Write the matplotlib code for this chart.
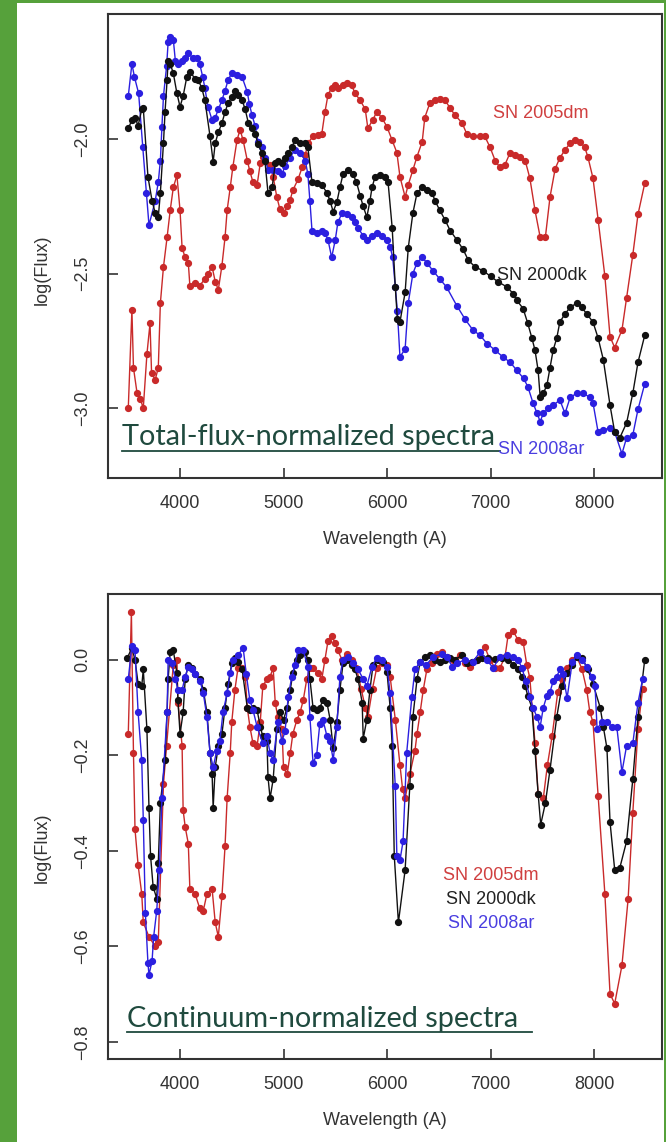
import matplotlib
matplotlib.use('Agg')
import matplotlib.pyplot as plt
from matplotlib.patches import Rectangle
from matplotlib.lines import Line2D

plt.rcParams['font.family'] = ['Liberation Sans', 'DejaVu Sans']

# ---- total-flux-normalized spectra (log flux) ----
wl_dm_tot = [3500, 3535, 3550, 3585, 3615, 3645, 3680, 3710, 3725, 3760, 3790, 3810, 3840, 3875, 3905,
             3935, 3970, 4000, 4020, 4050, 4080, 4095, 4145, 4190, 4240, 4270, 4310, 4340, 4370, 4405,
             4435, 4455, 4485, 4510, 4550, 4580, 4610, 4650, 4675, 4705, 4745, 4775, 4800, 4870, 4900,
             4935, 4965, 5000, 5035, 5065, 5090, 5140, 5180, 5210, 5235, 5285, 5335, 5370, 5400, 5430,
             5465, 5500, 5525, 5575, 5610, 5660, 5690, 5740, 5790, 5815, 5860, 5900, 5950, 6000, 6050,
             6095, 6125, 6175, 6205, 6250, 6290, 6340, 6365, 6415, 6465, 6510, 6560, 6610, 6655, 6725,
             6770, 6830, 6900, 6945, 6995, 7045, 7090, 7140, 7190, 7235, 7285, 7335, 7380, 7430, 7480,
             7530, 7575, 7625, 7670, 7720, 7770, 7815, 7865, 7910, 7940, 7990, 8040, 8105, 8155, 8200,
             8270, 8315, 8375, 8425, 8490]
fl_dm_tot = [-3.00, -2.635, -2.85, -2.945, -2.965, -3.00, -2.80, -2.685, -2.87, -2.895, -2.85, -2.61, -2.475, -2.365, -2.265,
             -2.18, -2.135, -2.265, -2.405, -2.44, -2.46, -2.545, -2.535, -2.545, -2.52, -2.50, -2.475, -2.53, -2.56, -2.47,
             -2.365, -2.265, -2.18, -2.105, -2.005, -1.965, -2.005, -2.08, -2.12, -2.16, -2.17, -2.09, -2.065, -2.095, -2.14,
             -2.215, -2.26, -2.275, -2.25, -2.225, -2.19, -2.15, -2.105, -2.06, -2.015, -1.99, -1.985, -1.98, -1.90, -1.835,
             -1.81, -1.80, -1.81, -1.80, -1.79, -1.80, -1.83, -1.855, -1.89, -1.96, -1.93, -1.90, -1.92, -1.955, -2.005,
             -2.05, -2.14, -2.215, -2.17, -2.115, -2.065, -2.01, -1.92, -1.865, -1.855, -1.85, -1.855, -1.885, -1.91, -1.94,
             -1.98, -1.99, -1.99, -1.99, -2.03, -2.08, -2.105, -2.095, -2.05, -2.06, -2.065, -2.08, -2.145, -2.265, -2.365,
             -2.365, -2.215, -2.11, -2.07, -2.04, -2.015, -2.005, -2.01, -2.03, -2.065, -2.145, -2.30, -2.51, -2.735, -2.775,
             -2.71, -2.59, -2.43, -2.28, -2.165]

wl_dk_tot = [3500, 3535, 3565, 3595, 3630, 3645, 3690, 3730, 3760, 3790, 3810, 3840, 3855, 3875, 3885,
             3905, 3935, 3970, 4000, 4030, 4065, 4095, 4145, 4175, 4210, 4240, 4290, 4320, 4340, 4370,
             4405, 4435, 4465, 4500, 4530, 4560, 4600, 4630, 4660, 4695, 4725, 4755, 4790, 4820, 4850,
             4890, 4920, 4945, 4985, 5015, 5045, 5080, 5110, 5160, 5210, 5235, 5275, 5320, 5370, 5420,
             5450, 5480, 5515, 5545, 5575, 5625, 5670, 5705, 5740, 5770, 5805, 5835, 5855, 5885, 5930,
             5980, 6010, 6050, 6080, 6100, 6125, 6175, 6205, 6250, 6290, 6340, 6385, 6435, 6465, 6510,
             6560, 6610, 6675, 6735, 6785, 6850, 6930, 7000, 7070, 7160, 7220, 7255, 7315, 7360, 7400,
             7430, 7460, 7480, 7510, 7545, 7575, 7605, 7640, 7670, 7720, 7770, 7835, 7880, 7930, 7990,
             8040, 8090, 8155, 8200, 8250, 8315, 8375, 8425, 8490]
fl_dk_tot = [-1.96, -1.93, -1.92, -1.95, -1.89, -1.885, -2.14, -2.23, -2.275, -2.29, -2.20, -2.015, -1.90, -1.78, -1.71,
             -1.72, -1.755, -1.83, -1.88, -1.84, -1.77, -1.75, -1.775, -1.78, -1.81, -1.855, -1.99, -2.085, -2.015, -1.975,
             -1.94, -1.90, -1.865, -1.845, -1.82, -1.835, -1.855, -1.89, -1.94, -1.96, -1.98, -2.02, -2.05, -2.08, -2.20,
             -2.18, -2.09, -2.08, -2.09, -2.07, -2.05, -2.03, -2.005, -2.015, -2.015, -2.03, -2.16, -2.165, -2.17, -2.20,
             -2.23, -2.27, -2.235, -2.18, -2.13, -2.115, -2.13, -2.16, -2.21, -2.25, -2.29, -2.23, -2.18, -2.14, -2.135,
             -2.14, -2.16, -2.33, -2.55, -2.67, -2.68, -2.57, -2.405, -2.275, -2.20, -2.18, -2.19, -2.20, -2.23, -2.265,
             -2.30, -2.34, -2.375, -2.41, -2.45, -2.475, -2.49, -2.51, -2.53, -2.55, -2.575, -2.60, -2.63, -2.685, -2.74,
             -2.785, -2.86, -2.96, -2.945, -2.915, -2.85, -2.785, -2.74, -2.68, -2.65, -2.625, -2.61, -2.625, -2.65, -2.68,
             -2.74, -2.82, -2.99, -3.09, -3.11, -3.055, -2.945, -2.83, -2.73]

wl_ar_tot = [3500, 3535, 3560, 3600, 3640, 3675, 3700, 3760, 3790, 3810, 3825, 3840, 3870, 3885, 3900,
             3935, 3955, 3980, 4020, 4050, 4080, 4125, 4165, 4190, 4220, 4240, 4270, 4310, 4340, 4370,
             4405, 4435, 4465, 4500, 4550, 4600, 4650, 4670, 4695, 4725, 4755, 4790, 4820, 4850, 4900,
             4950, 4985, 5015, 5060, 5110, 5160, 5210, 5235, 5255, 5275, 5320, 5370, 5400, 5430, 5465,
             5500, 5525, 5565, 5610, 5660, 5690, 5720, 5770, 5805, 5855, 5900, 5950, 6000, 6030, 6055,
             6080, 6100, 6125, 6175, 6205, 6250, 6290, 6340, 6385, 6445, 6510, 6575, 6675, 6755, 6830,
             6900, 6965, 7045, 7120, 7190, 7255, 7320, 7360, 7410, 7450, 7480, 7510, 7560, 7605, 7670,
             7720, 7770, 7835, 7895, 7960, 7990, 8040, 8090, 8155, 8200, 8270, 8315, 8375, 8425, 8490]
fl_ar_tot = [-1.84, -1.72, -1.77, -1.83, -2.03, -2.20, -2.32, -2.23, -2.16, -2.08, -1.955, -1.84, -1.73, -1.64, -1.62,
             -1.63, -1.71, -1.72, -1.71, -1.70, -1.68, -1.70, -1.70, -1.72, -1.77, -1.81, -1.88, -1.93, -1.92, -1.89,
             -1.855, -1.82, -1.78, -1.755, -1.76, -1.77, -1.825, -1.87, -1.91, -1.95, -2.01, -2.03, -2.07, -2.115, -2.115,
             -2.12, -2.13, -2.10, -2.07, -2.04, -2.05, -2.08, -2.13, -2.23, -2.34, -2.35, -2.34, -2.35, -2.375, -2.44,
             -2.375, -2.31, -2.275, -2.28, -2.29, -2.31, -2.33, -2.36, -2.375, -2.36, -2.35, -2.36, -2.375, -2.40, -2.44,
             -2.55, -2.64, -2.81, -2.78, -2.61, -2.50, -2.46, -2.44, -2.46, -2.49, -2.52, -2.55, -2.62, -2.67, -2.71,
             -2.73, -2.76, -2.785, -2.81, -2.83, -2.86, -2.89, -2.92, -2.98, -3.02, -3.05, -3.02, -3.00, -2.99, -2.97,
             -3.02, -2.96, -2.945, -2.945, -2.96, -2.98, -3.09, -3.08, -3.075, -3.09, -3.17, -3.11, -3.10, -3.005, -2.91]

# ---- continuum-normalized spectra (log flux) ----
wl_dm_con = [3500, 3530, 3550, 3565, 3595, 3630, 3645, 3700, 3760, 3790, 3840, 3870, 3935, 3970,
             3980, 4020, 4030, 4050, 4080, 4095, 4145, 4190, 4225, 4260, 4310, 4340, 4370, 4405, 4435,
             4455, 4485, 4500, 4530, 4560, 4600, 4630, 4650, 4675, 4705, 4745, 4775, 4800, 4840, 4870,
             4900, 4920, 4945, 4985, 5000, 5035, 5065, 5090, 5130, 5160, 5190, 5225, 5255, 5285, 5335,
             5370, 5400, 5430, 5465, 5500, 5525, 5565, 5610, 5660, 5705, 5750, 5790, 5815, 5860, 5900,
             5950, 6000, 6030, 6080, 6125, 6150, 6175, 6220, 6270, 6290, 6320, 6350, 6385, 6435, 6485,
             6530, 6580, 6640, 6705, 6755, 6800, 6870, 6945, 6995, 7045, 7090, 7140, 7170, 7220, 7265,
             7315, 7350, 7380, 7430, 7460, 7510, 7550, 7595, 7650, 7690, 7740, 7790, 7835, 7885, 7930,
             7960, 7990, 8040, 8105, 8155, 8200, 8270, 8330, 8375, 8425, 8470]
fl_dm_con = [-0.155, 0.10, -0.195, -0.355, -0.43, -0.49, -0.55, -0.58, -0.60, -0.59, -0.26, -0.18, -0.01, 0.0,
             -0.09, -0.18, -0.315, -0.35, -0.385, -0.48, -0.49, -0.52, -0.525, -0.49, -0.48, -0.55, -0.58, -0.495, -0.39,
             -0.29, -0.195, -0.13, -0.063, -0.017, -0.017, -0.035, -0.10, -0.14, -0.175, -0.18, -0.13, -0.055, -0.04, -0.035,
             -0.017, -0.09, -0.12, -0.145, -0.225, -0.24, -0.195, -0.155, -0.125, -0.11, -0.085, -0.04, -0.017, -0.017, -0.028,
             -0.04, 0.0, 0.04, 0.05, 0.035, 0.02, 0.0, 0.013, 0.0, -0.017, -0.06, -0.10, -0.12, -0.06, -0.017,
             -0.007, -0.01, -0.035, -0.125, -0.22, -0.27, -0.29, -0.24, -0.19, -0.155, -0.11, -0.063, -0.02, -0.007, 0.013,
             0.017, 0.006, 0.0, 0.01, -0.007, -0.014, 0.0, 0.027, 0.0, -0.017, -0.017, 0.006, 0.052, 0.06, 0.042,
             0.038, -0.01, -0.038, -0.175, -0.28, -0.29, -0.22, -0.16, -0.067, -0.04, -0.017, 0.0, 0.006, -0.02, -0.063,
             -0.11, -0.13, -0.285, -0.49, -0.70, -0.72, -0.64, -0.50, -0.32, -0.145, -0.06]

wl_dk_con = [3490, 3535, 3565, 3595, 3630, 3645, 3680, 3700, 3715, 3740, 3775, 3790, 3810, 3855, 3875,
             3885, 3905, 3935, 3970, 3980, 4000, 4030, 4050, 4080, 4115, 4145, 4195, 4225, 4260, 4290,
             4310, 4320, 4340, 4370, 4405, 4435, 4465, 4500, 4530, 4560, 4600, 4650, 4675, 4705, 4745,
             4775, 4800, 4840, 4850, 4870, 4900, 4935, 4965, 5000, 5035, 5065, 5090, 5130, 5160, 5210,
             5235, 5255, 5285, 5320, 5350, 5380, 5420, 5450, 5480, 5515, 5545, 5575, 5610, 5660, 5690,
             5720, 5760, 5770, 5805, 5835, 5865, 5910, 5960, 6000, 6030, 6050, 6070, 6110, 6175, 6220,
             6250, 6290, 6320, 6365, 6415, 6465, 6510, 6560, 6610, 6655, 6725, 6770, 6820, 6870, 6920,
             6975, 7045, 7110, 7170, 7220, 7265, 7305, 7335, 7360, 7400, 7430, 7460, 7485, 7530, 7575,
             7640, 7690, 7740, 7790, 7835, 7885, 7940, 7990, 8060, 8090, 8125, 8155, 8200, 8250, 8315,
             8375, 8425, 8490]
fl_dk_con = [0.004, 0.025, 0.0, -0.05, -0.055, -0.02, -0.145, -0.31, -0.41, -0.475, -0.50, -0.425, -0.30, -0.21, -0.11,
             -0.04, 0.017, 0.02, -0.028, -0.085, -0.155, -0.11, -0.04, -0.01, -0.017, -0.03, -0.04, -0.063, -0.11, -0.195,
             -0.24, -0.31, -0.225, -0.18, -0.155, -0.10, -0.05, -0.007, 0.004, -0.004, -0.02, -0.10, -0.105, -0.10, -0.105,
             -0.14, -0.16, -0.17, -0.245, -0.29, -0.25, -0.145, -0.11, -0.125, -0.10, -0.063, -0.028, 0.0, 0.01, 0.017,
             0.0, -0.04, -0.10, -0.105, -0.10, -0.085, -0.09, -0.125, -0.185, -0.13, -0.063, -0.007, 0.0, -0.01, -0.02,
             -0.04, -0.09, -0.165, -0.125, -0.063, -0.01, 0.0, -0.004, -0.025, -0.10, -0.18, -0.41, -0.55, -0.44, -0.265,
             -0.12, -0.04, -0.004, 0.006, 0.01, 0.0, -0.004, 0.0, 0.004, 0.0, 0.01, -0.007, -0.004, 0.0, 0.004,
             0.004, 0.002, 0.004, 0.0, -0.01, -0.02, -0.035, -0.055, -0.075, -0.10, -0.19, -0.28, -0.345, -0.30, -0.23,
             -0.12, -0.055, -0.028, -0.01, 0.006, 0.004, -0.02, -0.05, -0.10, -0.14, -0.185, -0.34, -0.44, -0.435, -0.38,
             -0.25, -0.12, 0.0]

wl_ar_con = [3500, 3535, 3565, 3595, 3630, 3645, 3665, 3690, 3700, 3730, 3745, 3775, 3800, 3825, 3875,
             3885, 3920, 3955, 3980, 4020, 4050, 4080, 4115, 4145, 4195, 4225, 4260, 4290, 4320, 4355,
             4385, 4415, 4455, 4485, 4510, 4560, 4610, 4640, 4675, 4705, 4745, 4800, 4840, 4870, 4900,
             4945, 4985, 5015, 5045, 5080, 5110, 5140, 5190, 5235, 5255, 5285, 5320, 5350, 5380, 5420,
             5450, 5480, 5515, 5545, 5575, 5625, 5670, 5720, 5770, 5805, 5855, 5900, 5950, 6000, 6030,
             6080, 6095, 6125, 6155, 6190, 6240, 6270, 6320, 6380, 6440, 6530, 6580, 6630, 6675, 6750,
             6830, 6900, 6965, 7025, 7090, 7160, 7220, 7265, 7305, 7340, 7380, 7410, 7450, 7480, 7510,
             7545, 7575, 7605, 7640, 7670, 7700, 7740, 7790, 7835, 7885, 7930, 7980, 8010, 8030, 8075,
             8125, 8175, 8220, 8270, 8315, 8375, 8425, 8470]
fl_ar_con = [-0.04, 0.03, 0.02, -0.11, -0.21, -0.335, -0.53, -0.635, -0.66, -0.63, -0.58, -0.525, -0.44, -0.29, -0.11,
             0.0, -0.007, -0.04, -0.063, -0.063, -0.035, -0.014, -0.02, -0.03, -0.045, -0.07, -0.12, -0.195, -0.225, -0.19,
             -0.17, -0.11, -0.07, -0.028, 0.0, 0.01, 0.025, -0.03, -0.085, -0.105, -0.14, -0.175, -0.16, -0.195, -0.21,
             -0.13, -0.17, -0.15, -0.077, -0.035, -0.01, 0.02, 0.02, -0.014, -0.12, -0.215, -0.20, -0.135, -0.125, -0.16,
             -0.17, -0.21, -0.14, -0.035, 0.0, 0.006, -0.007, -0.02, -0.04, -0.055, -0.014, 0.004, 0.0, -0.014, -0.07,
             -0.265, -0.41, -0.42, -0.38, -0.195, -0.077, -0.02, -0.004, -0.01, 0.005, 0.013, 0.006, -0.014, -0.007, 0.0,
             -0.004, 0.017, 0.0, -0.017, 0.006, 0.01, 0.006, 0.0, -0.017, -0.045, -0.077, -0.10, -0.12, -0.14, -0.10,
             -0.075, -0.067, -0.045, -0.035, -0.02, -0.03, -0.08, -0.004, 0.01, 0.0, -0.014, -0.035, -0.055, -0.145, -0.13,
             -0.13, -0.14, -0.14, -0.235, -0.18, -0.175, -0.09, -0.04]

W, H = 666, 1142
red = '#c92a2a'
black = '#111111'
blue = '#2b1fe0'
note_col = '#1f4a3e'


def fx(px):
    return px / W


def fy(py):
    return 1 - py / H


fig = plt.figure(figsize=(W / 100, H / 100), dpi=100)
fig.patch.set_facecolor('#56a13b')
fig.add_artist(Rectangle((fx(17), 0), fx(664) - fx(17), fy(3), transform=fig.transFigure,
                         facecolor='white', edgecolor='none', zorder=0))

ax1 = fig.add_axes([fx(108), fy(478), fx(662) - fx(108), fy(14) - fy(478)])
ax2 = fig.add_axes([fx(108), fy(1059), fx(662) - fx(108), fy(594) - fy(1059)])

panels = [
    (ax1, [(wl_dm_tot, fl_dm_tot, red), (wl_ar_tot, fl_ar_tot, blue), (wl_dk_tot, fl_dk_tot, black)],
     (-3.26, -1.535), [-3.0, -2.5, -2.0]),
    (ax2, [(wl_dm_con, fl_dm_con, red), (wl_dk_con, fl_dk_con, black), (wl_ar_con, fl_ar_con, blue)],
     (-0.836, 0.138), [-0.8, -0.6, -0.4, -0.2, 0.0]),
]

for ax, series, ylim, yticks in panels:
    for wl, fl, c in series:
        ax.plot(wl, fl, '-', color=c, lw=1.0, marker='o', ms=4.2, mec=c, mfc=c)
    ax.set_xlim(3304, 8657)
    ax.set_ylim(*ylim)
    ax.set_xticks([4000, 5000, 6000, 7000, 8000])
    ax.set_yticks(yticks)
    ax.tick_params(direction='in', length=7, width=1.2, labelsize=13, pad=12,
                   colors='#333333', labelcolor='#333333')
    ax.tick_params(axis='y', labelrotation=90)
    for lab in ax.get_yticklabels():
        lab.set_va('center')
    for sp in ax.spines.values():
        sp.set_color('#333333')
        sp.set_linewidth(1.5)
    ax.set_xlabel('Wavelength (A)', fontsize=13, color='#333333', labelpad=14)
    ax.patch.set_alpha(0)

fig.text(fx(42), fy(270), 'log(Flux)', rotation=90, ha='center', va='center', fontsize=13, color='#333333')
fig.text(fx(42), fy(848), 'log(Flux)', rotation=90, ha='center', va='center', fontsize=13, color='#333333')

# series names
fig.text(fx(493), fy(113), 'SN 2005dm', color='#d04040', fontsize=13, va='center')
fig.text(fx(497), fy(276), 'SN 2000dk', color='#222222', fontsize=13, va='center')
fig.text(fx(498), fy(450), 'SN 2008ar', color='#4a3ee0', fontsize=13, va='center')
fig.text(fx(491), fy(876), 'SN 2005dm', color='#d04040', fontsize=13, va='center', ha='center')
fig.text(fx(491), fy(899), 'SN 2000dk', color='#222222', fontsize=13, va='center', ha='center')
fig.text(fx(491), fy(923), 'SN 2008ar', color='#4a3ee0', fontsize=13, va='center', ha='center')

# slide annotations (underlined)
fig.text(fx(122), fy(445), 'Total-flux-normalized spectra', color=note_col, fontsize=20.8,
         family=['Lato', 'DejaVu Sans'], va='baseline')
fig.add_artist(Line2D([fx(122), fx(500)], [fy(451), fy(451)], color=note_col, lw=1.3,
                      transform=fig.transFigure))
fig.text(fx(127), fy(1027), 'Continuum-normalized spectra', color=note_col, fontsize=20.8,
         family=['Lato', 'DejaVu Sans'], va='baseline')
fig.add_artist(Line2D([fx(127), fx(532)], [fy(1032), fy(1032)], color=note_col, lw=1.3,
                      transform=fig.transFigure))

fig.savefig('out.png', dpi=100, facecolor=fig.get_facecolor())
